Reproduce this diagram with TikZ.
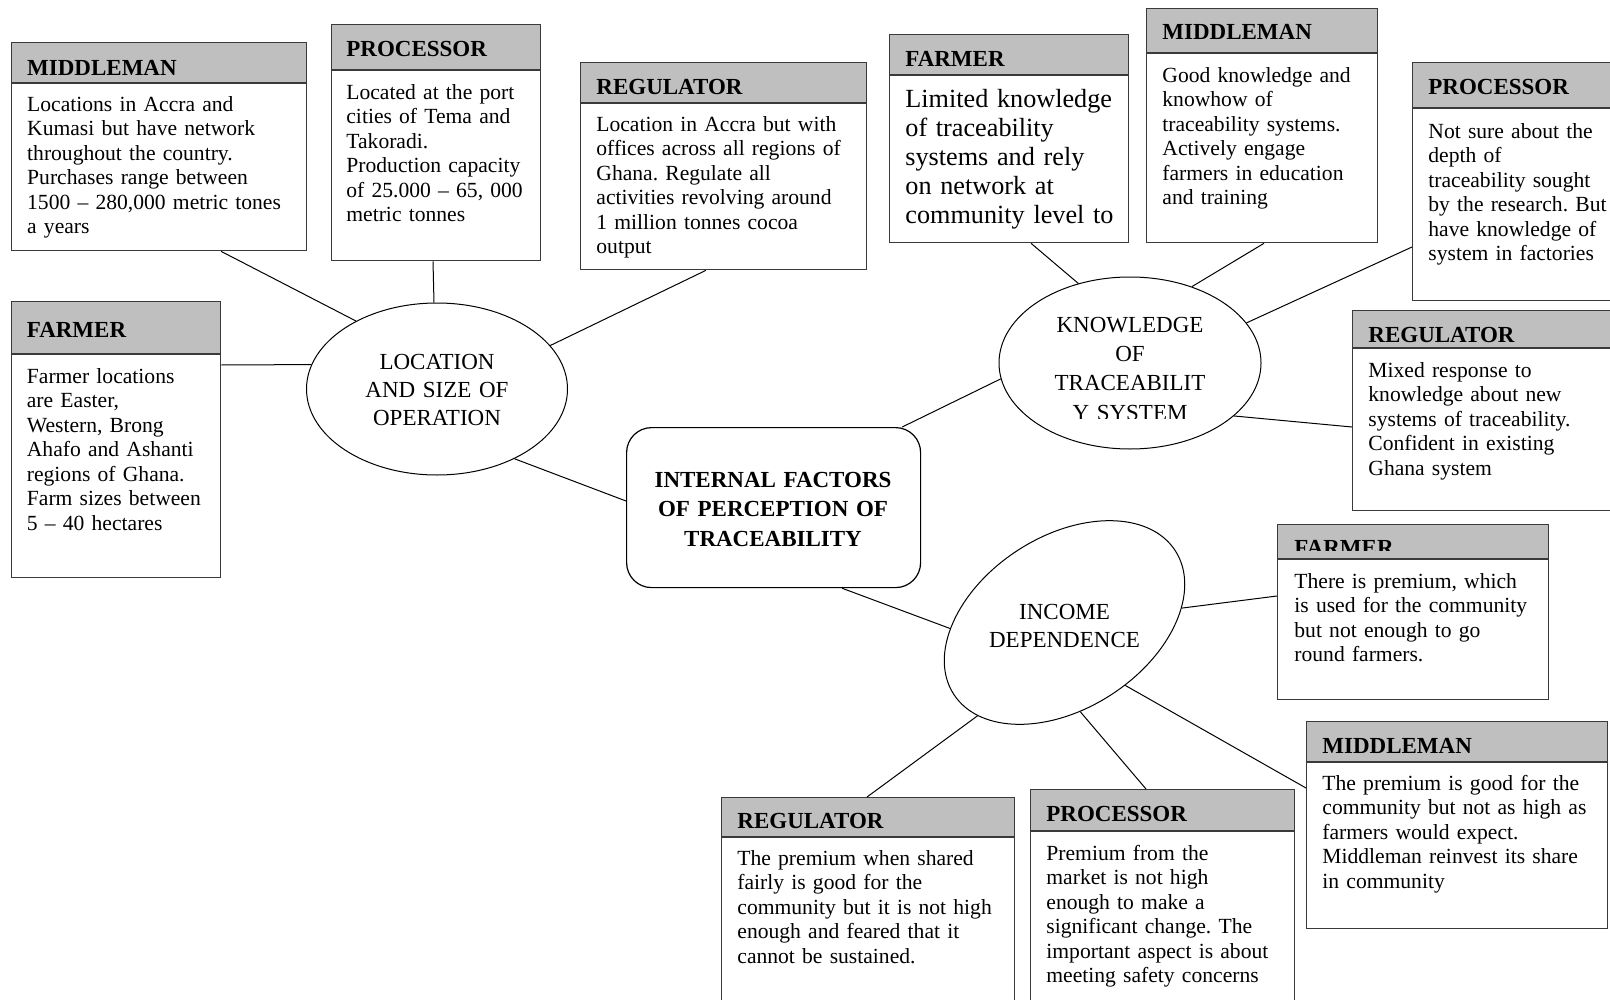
\documentclass[tikz,border=0pt]{standalone}
\usepackage{fontspec}
\setmainfont{Liberation Serif}
\usetikzlibrary{shapes.geometric}
\frenchspacing

\definecolor{hdrgray}{HTML}{BFBFBF}
\definecolor{framegray}{HTML}{3A3A3A}

\tikzset{
  hdrfill/.style={fill=hdrgray},
  boxline/.style={draw=framegray, line width=0.65pt},
  boxframe/.style={draw=framegray, line width=0.65pt, rectangle, inner sep=0pt},
  link/.style={draw=black, line width=0.5pt},
  oval/.style={ellipse, draw=black, line width=0.5pt, inner sep=0pt},
  hdrtxt/.style={anchor=base west, inner sep=0pt, font=\bfseries\fontsize{11.5}{13}\selectfont},
  bodytxt/.style={anchor=north west, inner sep=0pt, text width=170pt, align=left,
    font=\fontsize{10.8}{12.25}\selectfont},
  bigtxt/.style={anchor=north west, inner sep=0pt, text width=170pt, align=left,
    font=\fontsize{13.1}{14.5}\selectfont},
  ovaltxt/.style={anchor=north, inner sep=0pt, text width=150pt, align=center,
    font=\fontsize{11.5}{14}\selectfont},
}

% framed card: name, x1, y1, x2, y2, bottom of the grey title band
\newcommand\cardbox[6]{%
  \fill[hdrfill] (#2,#3) rectangle (#4,#6);
  \draw[boxline] (#2,#6) -- (#4,#6);
  \node[boxframe, anchor=north west, minimum width={(#4-#2)*0.5pt},
        minimum height={(#5-#3)*0.5pt}] (#1) at (#2,#3) {};
}

\begin{document}
\begin{tikzpicture}[x=0.5pt, y=-0.5pt]
\useasboundingbox (0,0) rectangle (1610,1000);
\clip (0,0) rectangle (1610,1000);
\fill[white] (0,0) rectangle (1610,1000);

% ---------- cards ----------
\cardbox{mA}{11}{42}{306}{250}{83}
\cardbox{mB}{331}{24}{540}{260}{70}
\cardbox{mC}{580}{62}{866}{269}{103}
\cardbox{mD}{889}{34}{1127.5}{242}{75}
\cardbox{mE}{1146}{8}{1377}{242}{53}
\cardbox{mF}{1412}{62}{1630}{300}{108}
\cardbox{mG}{1352}{310}{1630}{510}{348}
\cardbox{mH}{11}{301}{220}{577}{354}
\cardbox{mFR}{1277}{524}{1548}{699}{559}
\cardbox{mMBR}{1306}{721}{1607}{928}{762}
\cardbox{mRBR}{721}{797}{1014}{1015}{837}
\cardbox{mPBR}{1030}{789}{1294}{1015}{831}

% ---------- card titles ----------
\node[hdrtxt] (hA) at (26.8,76) {MIDDLEMAN};
\node[hdrtxt] (hB) at (346,57) {PROCESSOR};
\node[hdrtxt] (hC) at (596,95) {REGULATOR};
\node[hdrtxt] (hD) at (905,67) {FARMER};
\node[hdrtxt] (hE) at (1162,40) {MIDDLEMAN};
\node[hdrtxt] (hF) at (1428,95) {PROCESSOR};
\node[hdrtxt] (hG) at (1368,342) {REGULATOR};
\node[hdrtxt] (hH) at (26.5,337) {FARMER};
\begin{scope}
  \clip (1277,524) rectangle (1548,550);
  \node[hdrtxt] (hFR) at (1294,555) {FARMER};
\end{scope}
\node[hdrtxt] (hMBR) at (1322,753) {MIDDLEMAN};
\node[hdrtxt] (hRBR) at (737,828) {REGULATOR};
\node[hdrtxt] (hPBR) at (1046,821) {PROCESSOR};

% ---------- card texts ----------
\node[bodytxt] (tA) at (26.8,93.85) {\strut Locations in Accra and\\Kumasi but have network\\throughout the country.\\Purchases range between\\1500 – 280,000 metric tones\\a years};
\node[bodytxt] (tB) at (346,81.85) {\strut Located at the port\\cities of Tema and\\Takoradi.\\Production capacity\\of 25.000 – 65, 000\\metric tonnes};
\node[bodytxt] (tC) at (596,113.85) {\strut Location in Accra but with\\offices across all regions of\\Ghana. Regulate all\\activities revolving around\\1 million tonnes cocoa\\output};
\node[bigtxt] (tD) at (905,87) {\strut Limited knowledge\\of traceability\\systems and rely\\on network at\\community level to};
\node[bodytxt] (tE) at (1162,64.85) {\strut Good knowledge and\\knowhow of\\traceability systems.\\Actively engage\\farmers in education\\and training};
\node[bodytxt] (tF) at (1428,120.85) {\strut Not sure about the\\depth of\\traceability sought\\by the research. But\\have knowledge of\\system in factories};
\node[bodytxt] (tG) at (1368,359.85) {\strut Mixed response to\\knowledge about new\\systems of traceability.\\Confident in existing\\Ghana system};
\node[bodytxt] (tH) at (26.5,365.85) {\strut Farmer locations\\are Easter,\\Western, Brong\\Ahafo and Ashanti\\regions of Ghana.\\Farm sizes between\\5 – 40 hectares};
\node[bodytxt] (tFR) at (1294,570.85) {\strut There is premium, which\\is used for the community\\but not enough to go\\round farmers.};
\node[bodytxt] (tMBR) at (1322,772.85) {\strut The premium is good for the\\community but not as high as\\farmers would expect.\\Middleman reinvest its share\\in community};
\node[bodytxt] (tRBR) at (737,847.85) {\strut The premium when shared\\fairly is good for the\\community but it is not high\\enough and feared that it\\cannot be sustained.};
\node[bodytxt] (tPBR) at (1046,842.85) {\strut Premium from the\\market is not high\\enough to make a\\significant change. The\\important aspect is about\\meeting safety concerns};

% ---------- central box ----------
\node[draw=black, line width=0.6pt, rounded corners=12.5pt, inner sep=0pt,
      minimum width=147pt, minimum height=80pt, anchor=north west] (ctr) at (626,427) {};
\node[anchor=north, inner sep=0pt, text width=150pt, align=center,
      font=\bfseries\fontsize{11.5}{14.75}\selectfont] (ctrtxt) at (773,466.3)
  {\strut INTERNAL FACTORS\\OF PERCEPTION OF\\TRACEABILITY};

% ---------- factor ellipses ----------
\node[oval, minimum width=130.5pt, minimum height=86pt] (loc) at (437,389) {};
\node[ovaltxt] (loctxt) at (437,349.4) {\strut LOCATION\\AND SIZE OF\\OPERATION};

\node[oval, minimum width=131pt, minimum height=86pt] (know) at (1130,363) {};
\begin{scope}
  \clip (999,277) rectangle (1261,418);
  \node[ovaltxt, font=\fontsize{11.5}{14.6}\selectfont] (knowtxt) at (1130,311.6)
    {\strut KNOWLEDGE\\OF\\TRACEABILIT\\Y SYSTEM};
\end{scope}

\node[oval, minimum width=132pt, minimum height=86pt, rotate=33] (inc) at (1064.5,622.5) {};
\node[ovaltxt] (inctxt) at (1064.5,599.4) {\strut INCOME\\DEPENDENCE};

% ---------- connectors ----------
\draw[link] ([xshift=105pt]mA.south west) -- (loc.140);
\draw[link] ([xshift=51pt]mB.south west) -- (loc.92);
\draw[link] ([xshift=63pt]mC.south west) -- (loc.21);
\draw[link] ([yshift=-32pt]mH.north east) -- (loc.169);
\draw[link] (loc.-42) -- ([yshift=-37pt]ctr.north west);

\draw[link] ([xshift=-9.5pt]ctr.north east) -- (know.187);
\draw[link] ([xshift=71pt]mD.south west) -- (know.123);
\draw[link] ([xshift=59pt]mE.south west) -- (know.51);
\draw[link] ([yshift=-92.5pt]mF.north west) -- (know.19);
\draw[link] ([yshift=-58.5pt]mG.north west) -- (know.-27);

\draw[link] ([xshift=108pt]ctr.south west) -- (inc.150);
\draw[link] (inc.-26) -- ([yshift=-36pt]mFR.north west);
\draw[link] (inc.-79) -- ([yshift=-33.5pt]mMBR.north west);
\draw[link] (inc.194) -- ([xshift=73pt]mRBR.north west);
\draw[link] (inc.247) -- ([xshift=58pt]mPBR.north west);
\end{tikzpicture}
\end{document}
